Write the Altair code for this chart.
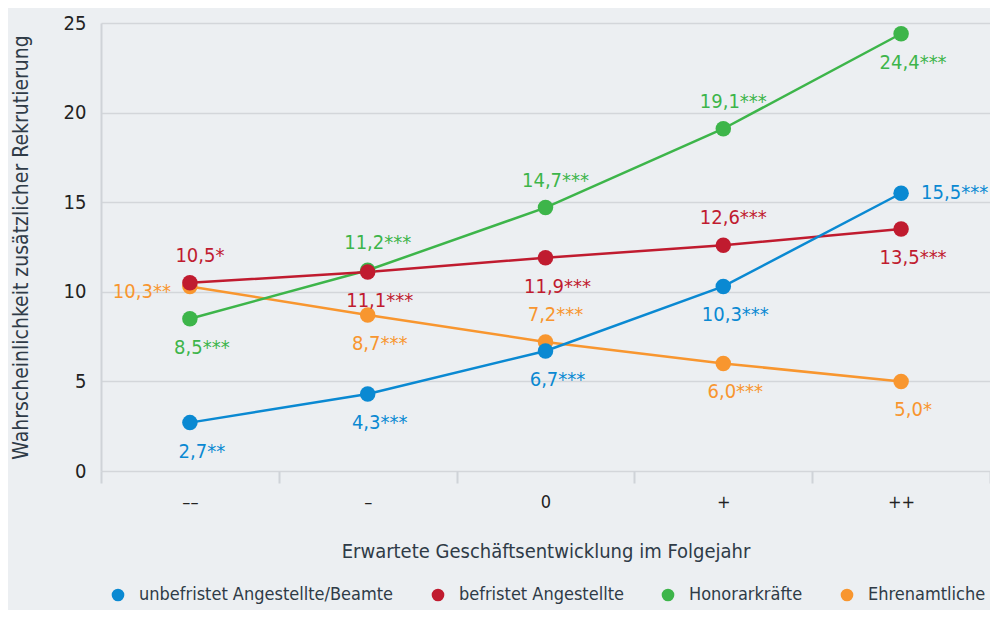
import altair as alt
import pandas as pd

categories = ["––", "–", "0", "+", "++"]
series = ["unbefristet Angestellte/Beamte", "befristet Angestellte", "Honorarkräfte", "Ehrenamtliche"]
colors = ["#0a89d2", "#c01b2f", "#3db54a", "#f8962f"]

values_unbefristet = [2.7, 4.3, 6.7, 10.3, 15.5]
labels_unbefristet = ["2,7**", "4,3***", "6,7***", "10,3***", "15,5***"]
place_unbefristet = ["below", "below", "below", "below", "right"]

values_befristet = [10.5, 11.1, 11.9, 12.6, 13.5]
labels_befristet = ["10,5*", "11,1***", "11,9***", "12,6***", "13,5***"]
place_befristet = ["above", "below", "below", "above", "below"]

values_honorar = [8.5, 11.2, 14.7, 19.1, 24.4]
labels_honorar = ["8,5***", "11,2***", "14,7***", "19,1***", "24,4***"]
place_honorar = ["below", "above", "above", "above", "below"]

values_ehrenamt = [10.3, 8.7, 7.2, 6.0, 5.0]
labels_ehrenamt = ["10,3**", "8,7***", "7,2***", "6,0***", "5,0*"]
place_ehrenamt = ["left", "below", "above", "below", "below"]

# drawing order: bottom -> top
draw_order = [
    ("Ehrenamtliche", values_ehrenamt, labels_ehrenamt, place_ehrenamt),
    ("Honorarkräfte", values_honorar, labels_honorar, place_honorar),
    ("befristet Angestellte", values_befristet, labels_befristet, place_befristet),
    ("unbefristet Angestellte/Beamte", values_unbefristet, labels_unbefristet, place_unbefristet),
]

rows = []
for z, (name, vals, labs, places) in enumerate(draw_order):
    for c, v, l, p in zip(categories, vals, labs, places):
        rows.append({"cat": c, "value": v, "series": name, "label": l, "place": p, "z": z})
df = pd.DataFrame(rows)

FONT = "DejaVu Sans Condensed"
TITLE_COLOR = "#2f3b47"

color = alt.Color("series:N", scale=alt.Scale(domain=series, range=colors),
                  legend=alt.Legend(title=None, orient="none", direction="horizontal",
                                    legendX=8, legendY=563, symbolType="circle",
                                    symbolSize=160, symbolStrokeWidth=0,
                                    labelFontSize=18, labelFont=FONT, labelColor=TITLE_COLOR,
                                    labelLimit=500, columnPadding=35, labelOffset=12))
color_nl = alt.Color("series:N", scale=alt.Scale(domain=series, range=colors), legend=None)

x = alt.X("cat:N", sort=categories,
          scale=alt.Scale(type="band", domain=categories, paddingInner=0, paddingOuter=0),
          axis=alt.Axis(title="Erwartete Geschäftsentwicklung im Folgejahr", labelAngle=0,
                        domain=False, grid=False, ticks=True, tickBand="extent", tickSize=12,
                        tickColor="#cfd3d8", tickWidth=2, labelPadding=10, labelFontSize=18,
                        labelColor="#222", titlePadding=30, titleFontSize=20))
y = alt.Y("value:Q", scale=alt.Scale(domain=[0, 25], nice=False, zero=True),
          axis=alt.Axis(title="Wahrscheinlichkeit zusätzlicher Rekrutierung",
                        values=[0, 5, 10, 15, 20, 25], ticks=False, domain=True,
                        domainColor="#cfd3d8", domainWidth=2, grid=True,
                        gridColor="#d3d6da", gridWidth=1.5, labelPadding=15,
                        labelFontSize=20, labelColor="#222", titlePadding=32,
                        titleFontSize=21))

base = alt.Chart(df)

lines = base.mark_line(strokeWidth=2.5).encode(x=x, y=y, color=color, detail="series:N")
points = base.mark_circle(size=240, opacity=1).encode(x=x, y=y, color=color_nl,
                                                      order=alt.Order("z:Q"))

def text_layer(place, dx, dy, align):
    return base.transform_filter(alt.datum.place == place).mark_text(
        dx=dx, dy=dy, align=align, baseline="middle", fontSize=20, font=FONT
    ).encode(x=x, y=y, text="label:N", color=color_nl)

texts = [
    text_layer("above", 10, -27, "center"),
    text_layer("below", 12, 29, "center"),
    text_layer("right", 20, 0, "left"),
    text_layer("left", -19, 6, "right"),
]

chart = alt.layer(lines, points, *texts).properties(
    width=889, height=448,
    autosize=alt.AutoSizeParams(type="none"),
    padding={"left": 93, "top": 15, "right": 0, "bottom": 139},
    background="#eceff2",
).configure_view(stroke=None).configure_axis(
    labelFont=FONT, titleFont=FONT, titleFontWeight="normal", titleColor=TITLE_COLOR
)

chart.save("out.html", embed_options={"renderer": "svg", "actions": False})
